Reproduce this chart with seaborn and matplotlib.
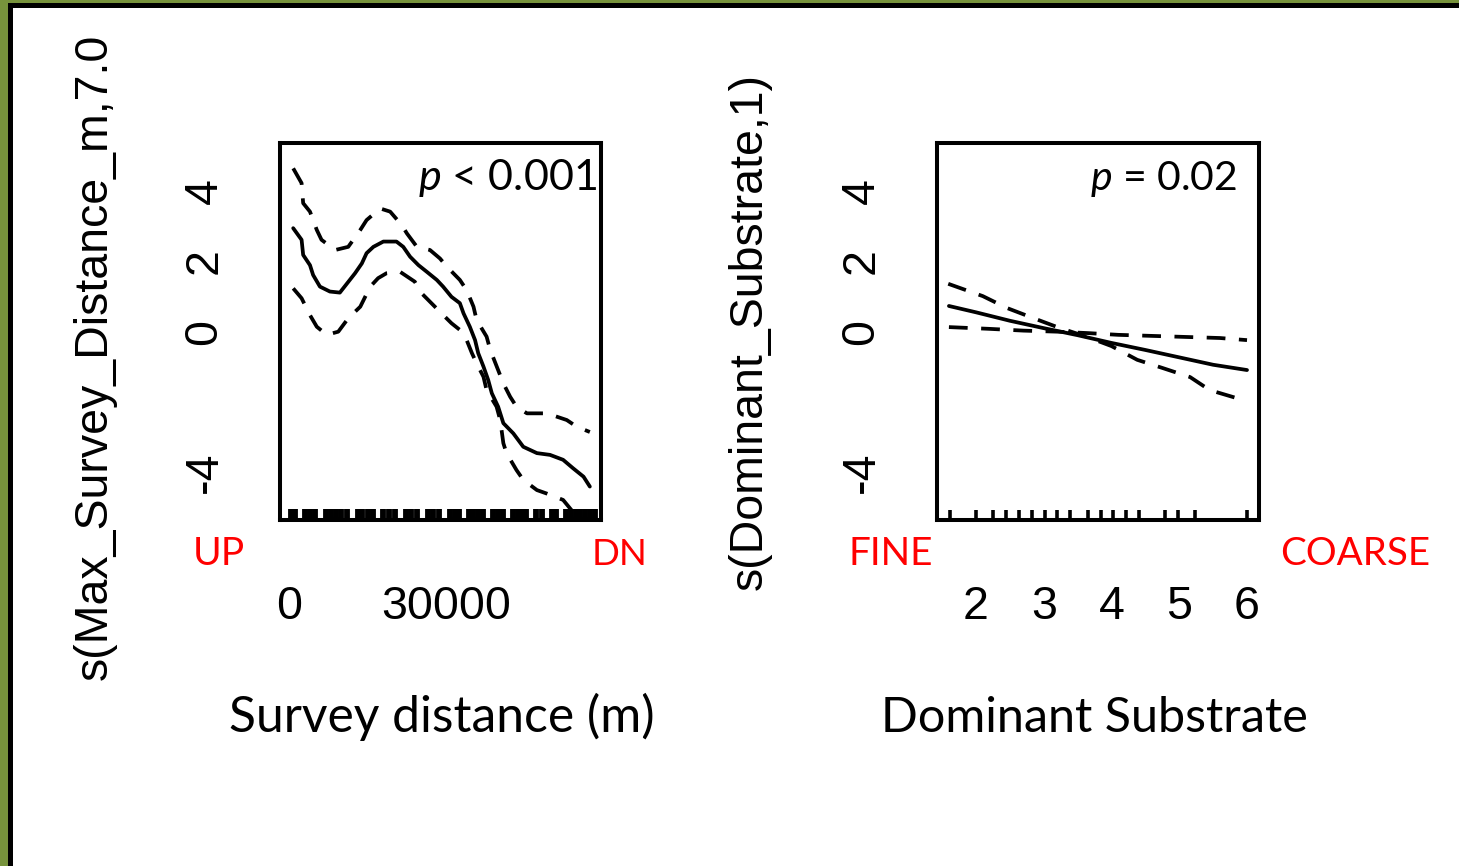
import numpy as np
import pandas as pd
import matplotlib
matplotlib.use("Agg")
import matplotlib.pyplot as plt
import seaborn as sns
from matplotlib.patches import Rectangle

# ---------------- data ----------------
# Left panel: smooth of survey distance (m)
fit_dist_m = [800, 2400, 2700, 4000, 4600, 5900, 7800, 9700, 11600, 12600, 13900, 14800,
              16100, 18000, 20500, 21800, 23100, 24700, 26300, 28200, 29400, 31000, 32600,
              33300, 34500, 35500, 36100, 37100, 38000, 38700, 39900, 40900, 42800, 44700,
              47300, 49800, 52300, 54200, 56200, 57400]
fit_dist_y = [2.94, 2.61, 2.18, 1.89, 1.61, 1.28, 1.14, 1.11, 1.47, 1.66, 1.94, 2.23,
              2.41, 2.56, 2.56, 2.41, 2.13, 1.89, 1.70, 1.47, 1.28, 0.99, 0.81,
              0.52, 0.14, -0.24, -0.61, -0.99, -1.37, -1.75, -2.13, -2.60, -2.89, -3.27,
              -3.45, -3.50, -3.64, -3.88, -4.12, -4.40]

up_dist_m = [800, 2400, 2700, 4000, 5300, 6200, 8800, 11300, 13600, 14800, 17400, 19300,
             21500, 22500, 24400, 26900, 28800, 30100, 32600, 33900, 35200, 35800, 37700,
             38400, 39900, 40900, 42200, 43400, 45400, 49200, 53000, 54900, 57400]
up_dist_y = [4.64, 4.22, 3.65, 3.41, 2.89, 2.61, 2.32, 2.41, 2.89, 3.17, 3.50, 3.41,
             3.03, 2.79, 2.41, 2.32, 2.08, 1.85, 1.47, 1.18, 0.71, 0.33, -0.14,
             -0.52, -1.09, -1.47, -1.85, -2.13, -2.32, -2.32, -2.51, -2.70, -2.85]

lo_dist_m = [800, 2400, 4000, 5300, 7200, 9400, 11300, 13600, 15500, 17000, 18600, 21200,
             24000, 25300, 26900, 29100, 31000, 32600, 33900, 34900, 35800, 37100, 37700,
             39600, 40300, 40900, 41500, 43400, 44700, 47300, 49200, 52300, 53900, 57400]
lo_dist_y = [1.23, 0.95, 0.47, 0.14, -0.09, 0.00, 0.38, 0.71, 1.28, 1.52, 1.66, 1.70,
             1.42, 1.09, 0.85, 0.52, 0.24, 0.05, -0.24, -0.61, -0.90, -1.28, -1.66,
             -2.13, -2.51, -3.17, -3.45, -3.93, -4.21, -4.50, -4.60, -4.78, -5.07, -5.50]

rug_dist_m = [300, 1100, 3100, 4000, 5000, 7100, 8000, 9000, 10000, 11100, 13200, 14000,
              15000, 16000, 18000, 19000, 20300, 22400, 23300, 24500, 26600, 27500, 28600,
              30800, 31600, 32400, 34400, 35200, 36100, 37000, 39000, 39900, 40800, 42800,
              43600, 44400, 45200, 47200, 48200, 50200, 50900, 52900, 53800, 54700, 55600,
              56500, 57400, 58300]

dist_ticks = [0, 10000, 20000, 30000, 40000, 50000]
dist_ticklabels = ["0", "", "", "30000", "", ""]

# Right panel: smooth of dominant substrate
sub_fit_x = [1.6, 2.0, 2.5, 3.0, 3.5, 4.0, 4.5, 5.0, 5.5, 6.0]
sub_fit_y = [0.73, 0.55, 0.31, 0.10, -0.10, -0.32, -0.52, -0.73, -0.94, -1.09]

sub_ci1_x = [1.59, 2.10, 2.46, 2.84, 3.20, 3.64, 4.00, 4.38, 4.75, 5.16, 5.45, 5.94, 6.0]
sub_ci1_y = [1.36, 1.01, 0.67, 0.39, 0.13, -0.15, -0.41, -0.80, -1.03, -1.29, -1.66, -1.94, -1.97]

sub_ci2_x = [1.6, 2.2, 2.7, 3.2, 3.65, 4.1, 4.6, 5.1, 5.6, 6.0]
sub_ci2_y = [0.13, 0.08, 0.03, 0.00, -0.04, -0.09, -0.12, -0.15, -0.18, -0.24]

rug_sub = [1.62, 2.0, 2.25, 2.44, 2.63, 2.83, 3.02, 3.2, 3.39, 3.65, 3.85, 4.02,
           4.21, 4.41, 4.79, 4.98, 5.23, 6.0]

sub_ticks = [2, 3, 4, 5, 6]
sub_ticklabels = ["2", "3", "4", "5", "6"]

y_ticks = [-4, -2, 0, 2, 4]
y_ticklabels = ["-4", "", "0", "2", "4"]

p_text_left = r"$p$ < 0.001"
p_text_right = r"$p$ = 0.02"
ylab_left = "s(Max_Survey_Distance_m,7.0"
ylab_right = "s(Dominant_Substrate,1)"
xtitle_left = "Survey distance (m)"
xtitle_right = "Dominant Substrate"
end_labels = ["UP", "DN", "FINE", "COARSE"]

# ---------------- style ----------------
sns.set_style("white")
plt.rcParams['font.family'] = ['Liberation Sans', 'DejaVu Sans']
plt.rcParams['mathtext.fontset'] = 'custom'
plt.rcParams['mathtext.it'] = 'Lato:italic'
plt.rcParams['mathtext.rm'] = 'Lato'

W, H = 1459, 866
fig = plt.figure(figsize=(W / 100, H / 100), dpi=100)
fig.patch.set_facecolor('white')


def ax_rect(x0, y0, x1, y1):
    return [x0 / W, 1 - y1 / H, (x1 - x0) / W, (y1 - y0) / H]


def fx(x):
    return x / W


def fy(y):
    return 1 - y / H


ax1 = fig.add_axes(ax_rect(280, 143, 601, 520))
ax2 = fig.add_axes(ax_rect(937, 143, 1259, 520))

LW = 2.7
DASH = (0, (5, 3.6))

# left panel
sns.lineplot(x=fit_dist_m, y=fit_dist_y, ax=ax1, color='black', lw=LW,
             estimator=None, sort=False, legend=False)
sns.lineplot(x=up_dist_m, y=up_dist_y, ax=ax1, color='black', lw=LW, linestyle=DASH,
             estimator=None, sort=False, legend=False)
sns.lineplot(x=lo_dist_m, y=lo_dist_y, ax=ax1, color='black', lw=LW, linestyle=DASH,
             estimator=None, sort=False, legend=False)
sns.rugplot(x=rug_dist_m, ax=ax1, height=0.028, color='black', linewidth=4.2)

# right panel
sns.lineplot(x=sub_fit_x, y=sub_fit_y, ax=ax2, color='black', lw=LW,
             estimator=None, sort=False, legend=False)
sns.lineplot(x=sub_ci1_x, y=sub_ci1_y, ax=ax2, color='black', lw=LW, linestyle=DASH,
             estimator=None, sort=False, legend=False)
sns.lineplot(x=sub_ci2_x, y=sub_ci2_y, ax=ax2, color='black', lw=LW, linestyle=DASH,
             estimator=None, sort=False, legend=False)
sns.rugplot(x=rug_sub, ax=ax2, height=0.026, color='black', linewidth=2.6)

ax1.set_xlim(-1720, 59530)
ax2.set_xlim(1.424, 6.177)
for ax in (ax1, ax2):
    ax.set_ylim(-5.35, 5.36)
    ax.set_xlabel("")
    ax.set_ylabel("")
    ax.grid(False)
    for s in ax.spines.values():
        s.set_visible(True)
        s.set_linewidth(2.9)
        s.set_color('black')
    ax.set_yticks(y_ticks, y_ticklabels)

ax1.set_xticks(dist_ticks, dist_ticklabels)
ax2.set_xticks(sub_ticks, sub_ticklabels)

for ax in (ax1, ax2):
    ax.tick_params(axis='both', which='major', direction='out', length=19.5,
                   width=2.8, color='black', labelsize=33.5, labelcolor='black')
    ax.tick_params(axis='x', pad=27)
    ax.tick_params(axis='y', pad=19, labelrotation=90)
    for lab in ax.get_yticklabels():
        lab.set_va('center')
        lab.set_ha('right')

# y axis titles (R style, rotated)
fig.text(fx(95), fy(680), ylab_left, rotation=90, ha='center', va='bottom',
         fontsize=33.5, color='black')
fig.text(fx(750), fy(331), ylab_right, rotation=90, ha='center', va='center',
         fontsize=33.5, color='black')

renderer = fig.canvas.get_renderer()


def fit_width(t, target):
    bb = t.get_window_extent(renderer)
    t.set_fontsize(t.get_fontsize() * target / bb.width)
    return t


CAL = ['Lato', 'DejaVu Sans']
fit_width(fig.text(fx(597), fy(190), p_text_left, ha='right', va='baseline',
                   family=CAL, fontsize=34, color='black'), 179)
fit_width(fig.text(fx(1237), fy(190), p_text_right, ha='right', va='baseline',
                   family=CAL, fontsize=34, color='black'), 147)

red_pos = [(219, 52), (620, 56), (890.5, 85), (1355, 150)]
for lab, (xc, wd) in zip(end_labels, red_pos):
    fit_width(fig.text(fx(xc), fy(565), lab, ha='center', va='baseline',
                       family=CAL, fontsize=33, color='#FF0000'), wd)

fit_width(fig.text(fx(442), fy(732), xtitle_left, ha='center', va='baseline',
                   family=CAL, fontsize=38, color='black'), 425)
fit_width(fig.text(fx(1094), fy(732), xtitle_right, ha='center', va='baseline',
                   family=CAL, fontsize=38, color='black'), 428)

# slide frame (olive border + black line)
GREEN = '#77933C'
fig.add_artist(Rectangle((0, 0), 8 / W, 1, transform=fig.transFigure,
                         facecolor=GREEN, edgecolor='none', zorder=10))
fig.add_artist(Rectangle((0, 1 - 3 / H), 1, 3 / H, transform=fig.transFigure,
                         facecolor=GREEN, edgecolor='none', zorder=10))
fig.add_artist(Rectangle((8 / W, 0), 5 / W, 1 - 3 / H, transform=fig.transFigure,
                         facecolor='black', edgecolor='none', zorder=11))
fig.add_artist(Rectangle((8 / W, 1 - 8 / H), 1 - 8 / W, 5 / H, transform=fig.transFigure,
                         facecolor='black', edgecolor='none', zorder=11))

fig.savefig("out.png", dpi=100, facecolor='white')
